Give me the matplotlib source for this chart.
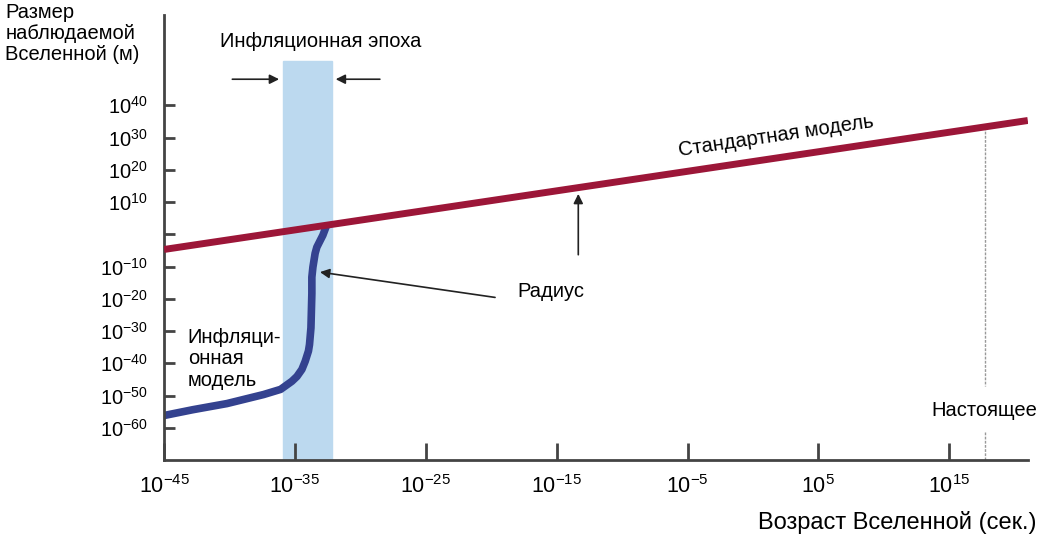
import math
import matplotlib.pyplot as plt
from matplotlib.ticker import FixedLocator, FuncFormatter, NullLocator

plt.rcParams['font.family'] = ['Liberation Sans', 'DejaVu Sans']
plt.rcParams['mathtext.default'] = 'regular'

# axis ticks (exponents of ten)
x_tick_exp = [-45, -35, -25, -15, -5, 5, 15]
y_tick_exp = [-60, -50, -40, -30, -20, -10, 0, 10, 20, 30, 40]

# standard model (straight line in log-log), exponents
std_x = [-45, 21]
std_y = [-4.7, 35.3]

# inflationary model curve, exponents
infl_x = [-45, -42.8, -40.2, -37.4, -36.1, -35.24, -34.85, -34.47, -34.22, -33.97, -33.89,
          -33.78, -33.71, -33.71, -33.63, -33.46, -33.33, -33.07, -32.87, -32.6]
infl_y = [-56.2, -54.4, -52.5, -49.7, -48.1, -45.6, -44.1, -41.9, -39.4, -36.2, -34.2,
          -29.0, -18.4, -13.3, -10.2, -5.9, -4.0, -1.9, -0.3, 2.6]

# inflation epoch band
band_x = [-35.9, -32.2]


def p10(e):
    return 10.0 ** e


fig = plt.figure(figsize=(10.52, 5.38), dpi=100)
ax = fig.add_axes([0.156, 0.145, 0.821, 0.827])
ax.set_xscale('log')
ax.set_yscale('log')
ax.set_xlim(1e-45, 1e21)
ax.set_ylim(1e-70, 1e68)

ax.axvspan(p10(band_x[0]), p10(band_x[1]), ymax=0.896, color='#bcd9ef', zorder=1)

ax.plot([p10(v) for v in std_x], [p10(v) for v in std_y], color='#9c1638',
        lw=5, solid_capstyle='butt', zorder=3)
ax.plot([p10(v) for v in infl_x], [p10(v) for v in infl_y], color='#34428f',
        lw=5.5, solid_capstyle='butt', solid_joinstyle='round', zorder=2.5)

# present-day marker
now_x = 17.7
now_top = std_y[0] + (now_x - std_x[0]) * (std_y[1] - std_y[0]) / (std_x[1] - std_x[0])
ax.plot([p10(now_x)] * 2, [p10(now_top), p10(-47.2)], color='#999999', lw=1, ls=(0, (2, 1)), zorder=2)
ax.plot([p10(now_x)] * 2, [p10(-61.3), 1e-70], color='#999999', lw=1, ls=(0, (2, 1)), zorder=2)
ax.text(p10(now_x), p10(-54.5), 'Настоящее', ha='center', va='center', fontsize=14.5)

# labels and arrows
arrow = dict(arrowstyle='-|>', color='#222222', lw=1.2, mutation_scale=14)
ax.text(p10(-33.0), p10(59.8), 'Инфляционная эпоха', ha='center', va='center', fontsize=14.5)
ax.annotate('', xy=(p10(-36.0), p10(48.1)), xytext=(p10(-40.0), p10(48.1)), arrowprops=arrow)
ax.annotate('', xy=(p10(-32.1), p10(48.1)), xytext=(p10(-28.3), p10(48.1)), arrowprops=arrow)

ax.text(p10(-18.0), p10(-17.6), 'Радиус', ha='left', va='center', fontsize=14.5)
ax.annotate('', xy=(p10(-33.3), p10(-11.6)), xytext=(p10(-19.5), p10(-19.7)), arrowprops=arrow)

ax.annotate('', xy=(p10(-13.35), p10(13.4)), xytext=(p10(-13.35), p10(-7.2)), arrowprops=arrow)

ax.text(p10(1.8), p10(30.5), 'Стандартная модель', ha='center', va='center',
        rotation=8.5, rotation_mode='anchor', fontsize=14.5)

ax.text(p10(-43.2), p10(-38.6), 'Инфляци-\nонная\nмодель', ha='left', va='center',
        fontsize=14.5, linespacing=1.15)

# axes styling
for s in ['top', 'right']:
    ax.spines[s].set_visible(False)
for s in ['left', 'bottom']:
    ax.spines[s].set_color('#444444')
    ax.spines[s].set_linewidth(2)

ax.xaxis.set_major_locator(FixedLocator([p10(e) for e in x_tick_exp]))
ax.yaxis.set_major_locator(FixedLocator([p10(e) for e in y_tick_exp]))
ax.xaxis.set_minor_locator(NullLocator())
ax.yaxis.set_minor_locator(NullLocator())


def exp_label(v, pos):
    e = int(round(math.log10(v)))
    return '' if e == 0 else '$10^{%d}$' % e


ax.xaxis.set_major_formatter(FuncFormatter(exp_label))
ax.yaxis.set_major_formatter(FuncFormatter(exp_label))
ax.tick_params(axis='x', direction='in', length=12, width=2, color='#444444', pad=11, labelsize=15.5)
ax.tick_params(axis='y', direction='in', length=8, width=2, color='#444444', pad=12, labelsize=14.5)
for lab in ax.get_xticklabels():
    lab.set_family(['Liberation Sans Narrow', 'Liberation Sans'])

fig.text(0.005, 0.995, 'Размер\nнаблюдаемой\nВселенной (м)', ha='left', va='top',
         fontsize=14.5, linespacing=1.15)
fig.text(0.985, 0.028, 'Возраст Вселенной (сек.)', ha='right', va='center',
         fontsize=17, family=['Liberation Sans Narrow', 'Liberation Sans'])

fig.savefig('out.png', dpi=100)
